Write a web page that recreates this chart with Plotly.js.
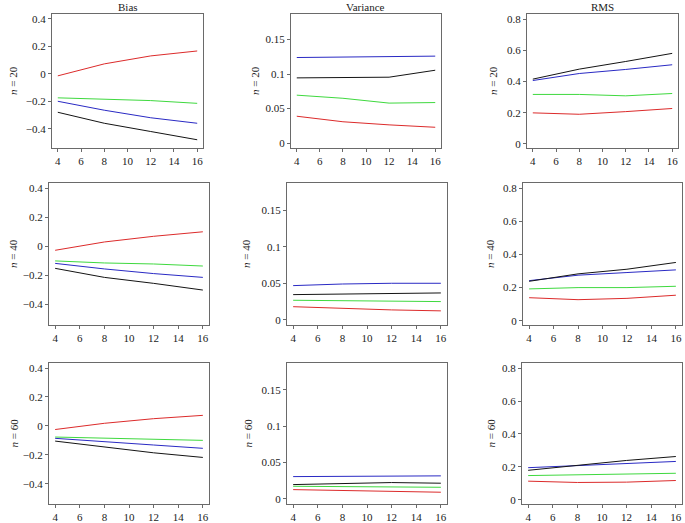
<!DOCTYPE html>
<html>
<head>
<meta charset="utf-8">
<script src="https://cdn.plot.ly/plotly-3.0.1.min.js"></script>
<style>html,body{margin:0;padding:0;background:#fff;}#chart{width:685px;height:523px;}</style>
</head>
<body>
<div id="chart"></div>
<script>
// ---- data ----
const xVals = [4, 8, 12, 16];
const sampleSizes = [20, 40, 60];
const measures = ['Bias', 'Variance', 'RMS'];
const xTicks = [4, 6, 8, 10, 12, 14, 16];
const biasTicks = [-0.4, -0.2, 0, 0.2, 0.4];
const varTicks = [0, 0.05, 0.1, 0.15];
const rmsTicks = [0, 0.2, 0.4, 0.6, 0.8];

// rows: n = 20, 40, 60
const biasRed   = [[-0.015, 0.072, 0.13, 0.166], [-0.027, 0.03, 0.069, 0.1], [-0.025, 0.018, 0.05, 0.073]];
const biasGreen = [[-0.175, -0.183, -0.195, -0.215], [-0.1, -0.114, -0.121, -0.135], [-0.077, -0.084, -0.091, -0.1]];
const biasBlue  = [[-0.2, -0.265, -0.32, -0.36], [-0.117, -0.155, -0.187, -0.213], [-0.086, -0.107, -0.132, -0.155]];
const biasBlack = [[-0.28, -0.36, -0.42, -0.48], [-0.151, -0.213, -0.254, -0.3], [-0.105, -0.148, -0.186, -0.218]];

const varRed   = [[0.039, 0.031, 0.0265, 0.023], [0.018, 0.0155, 0.0136, 0.0123], [0.0128, 0.0115, 0.0105, 0.0092]];
const varGreen = [[0.0695, 0.065, 0.058, 0.0588], [0.0268, 0.026, 0.025, 0.025], [0.0174, 0.017, 0.0165, 0.016]];
const varBlue  = [[0.124, 0.1247, 0.1253, 0.126], [0.0468, 0.049, 0.05, 0.05], [0.0307, 0.031, 0.0314, 0.0317]];
const varBlack = [[0.0945, 0.0955, 0.0955, 0.1056], [0.0345, 0.0355, 0.0355, 0.0368], [0.0197, 0.0216, 0.0225, 0.0216]];

const rmsRed   = [[0.199, 0.19, 0.207, 0.227], [0.139, 0.127, 0.135, 0.154], [0.113, 0.105, 0.107, 0.117]];
const rmsGreen = [[0.317, 0.317, 0.308, 0.323], [0.192, 0.2, 0.2, 0.208], [0.147, 0.153, 0.159, 0.161]];
const rmsBlue  = [[0.406, 0.451, 0.477, 0.507], [0.242, 0.275, 0.291, 0.307], [0.195, 0.207, 0.219, 0.233]];
const rmsBlack = [[0.415, 0.479, 0.528, 0.58], [0.238, 0.283, 0.311, 0.352], [0.179, 0.209, 0.239, 0.263]];

// ---- styling / layout ----
const W = 685, H = 523;
const colors = {red: '#dc2b2b', green: '#3fd93f', blue: '#2a2ac4', black: '#141414'};
const FONT = 'Liberation Serif';
const frame = '#6a6a6a';

const panelSeries = [
  {red: biasRed, green: biasGreen, blue: biasBlue, black: biasBlack},
  {red: varRed, green: varGreen, blue: varBlue, black: varBlack},
  {red: rmsRed, green: rmsGreen, blue: rmsBlue, black: rmsBlack}
];
const yRanges = [[-0.54, 0.435], [-0.007, 0.187], [-0.026, 0.832]];
const yTickSets = [biasTicks, varTicks, rmsTicks];

// pixel boxes [row][col] -> [x0, x1]
const xBoxes = [
  [[52, 203], [291, 441], [527, 678]],
  [[49, 209], [287, 447], [523, 682]],
  [[49, 209], [287, 447], [522, 682]]
];
const yBoxes = [[14, 148], [183, 325], [363, 504]];
const nLabelX = [[13, 255, 493], [13, 246, 490], [13, 247, 490]];

const traces = [];
const layout = {
  width: W, height: H,
  margin: {l: 0, r: 0, t: 0, b: 0},
  paper_bgcolor: '#fff', plot_bgcolor: '#fff',
  showlegend: false,
  font: {family: FONT, size: 11, color: '#222'},
  annotations: []
};

for (let r = 0; r < 3; r++) {
  for (let c = 0; c < 3; c++) {
    const idx = r * 3 + c + 1;
    const xa = idx === 1 ? 'x' : 'x' + idx;
    const ya = idx === 1 ? 'y' : 'y' + idx;
    const ps = panelSeries[c];
    ['red', 'green', 'blue', 'black'].forEach(k => {
      traces.push({
        x: xVals, y: ps[k][r], type: 'scatter', mode: 'lines',
        line: {color: colors[k], width: 1},
        xaxis: xa, yaxis: ya, hoverinfo: 'skip'
      });
    });
    const xb = xBoxes[r][c], yb = yBoxes[r];
    const common = {
      showline: true, mirror: true, linecolor: frame, linewidth: 1,
      showgrid: false, zeroline: false,
      ticks: 'outside', ticklen: 3, tickwidth: 1, tickcolor: frame,
      tickfont: {family: FONT, size: 11, color: '#222'},
      fixedrange: true
    };
    layout['xaxis' + (idx === 1 ? '' : idx)] = Object.assign({}, common, {
      domain: [xb[0] / W, xb[1] / W],
      anchor: ya, range: [3.5, 16.5],
      tickmode: 'array', tickvals: xTicks, ticktext: xTicks.map(String)
    });
    layout['yaxis' + (idx === 1 ? '' : idx)] = Object.assign({}, common, {
      domain: [1 - yb[1] / H, 1 - yb[0] / H],
      anchor: xa, range: yRanges[c],
      tickmode: 'array', tickvals: yTickSets[c]
    });
    layout.annotations.push({
      xref: 'paper', yref: 'paper',
      x: nLabelX[r][c] / W, y: 1 - ((yb[0] + yb[1]) / 2) / H,
      xanchor: 'center', yanchor: 'middle', textangle: -90, showarrow: false,
      text: '<i>n</i> = ' + sampleSizes[r],
      font: {family: FONT, size: 11, color: '#222'}
    });
  }
}
measures.forEach((m, c) => {
  const xb = xBoxes[0][c];
  layout.annotations.push({
    xref: 'paper', yref: 'paper',
    x: ((xb[0] + xb[1]) / 2) / W, y: 1 - 7 / H,
    xanchor: 'center', yanchor: 'middle', showarrow: false,
    text: m, font: {family: FONT, size: 11, color: '#222'}
  });
});

Plotly.newPlot('chart', traces, layout, {staticPlot: true});
</script>
</body>
</html>
